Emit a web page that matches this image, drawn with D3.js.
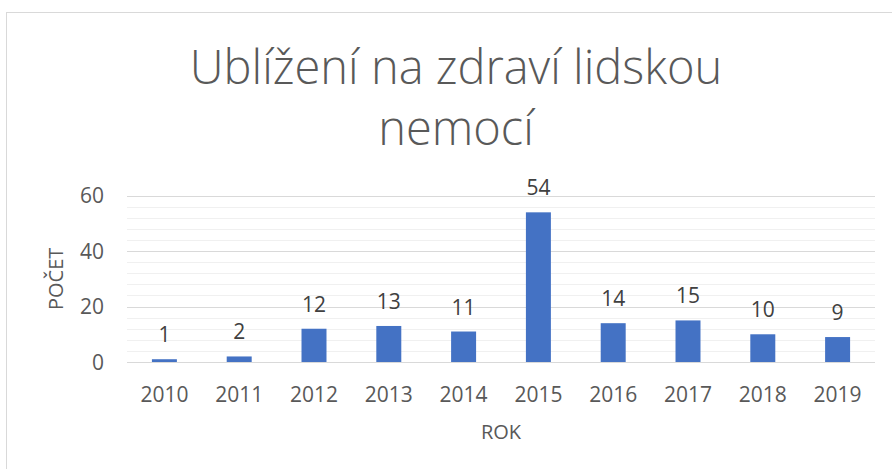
<!DOCTYPE html>
<html><head><meta charset="utf-8">
<script src="https://cdn.jsdelivr.net/npm/d3@7"></script>
<style>body{margin:0;background:#fff}svg{display:block}</style>
</head><body>
<script>
const years = ["2010","2011","2012","2013","2014","2015","2016","2017","2018","2019"];
const counts = [1,2,12,13,11,54,14,15,10,9];
const yTicks = [0,20,40,60];
const yMinor = [4,8,12,16,24,28,32,36,44,48,52,56];
const titleLines = ["Ublížení na zdraví lidskou","nemocí"];
const xTitle = "ROK", yTitle = "POČET";

const W = 892, H = 469;
const m = {l:127, r:17, t:195.7, b:107};
const font = "'Open Sans', sans-serif";
const svg = d3.select("body").append("svg").attr("width",W).attr("height",H);

svg.append("rect").attr("x",6.5).attr("y",12.5).attr("width",W).attr("height",H)
  .attr("fill","#fff").attr("stroke","#d9d9d9");

const x = d3.scaleBand().domain(years).range([m.l, W-m.r]).paddingInner(0.666).paddingOuter(0.333);
const y = d3.scaleLinear().domain([0,60]).range([H-m.b, m.t]);

const g = svg.append("g");
g.selectAll("line.minor").data(yMinor).join("line").attr("class","minor")
  .attr("x1",m.l).attr("x2",W-m.r).attr("y1",d=>Math.round(y(d))+0.5).attr("y2",d=>Math.round(y(d))+0.5)
  .attr("stroke","#f0f0f0").attr("stroke-width",1);
g.selectAll("line.major").data(yTicks).join("line").attr("class","major")
  .attr("x1",m.l).attr("x2",W-m.r).attr("y1",d=>Math.round(y(d))+0.5).attr("y2",d=>Math.round(y(d))+0.5)
  .attr("stroke","#d9d9d9").attr("stroke-width",1);

g.selectAll("rect.bar").data(counts).join("rect").attr("class","bar")
  .attr("x",(d,i)=>x(years[i])).attr("width",x.bandwidth())
  .attr("y",d=>y(d)).attr("height",d=>y(0)-y(d)).attr("fill","#4472c4");

g.selectAll("text.lbl").data(counts).join("text").attr("class","lbl")
  .attr("x",(d,i)=>x(years[i])+x.bandwidth()/2).attr("y",d=>y(d)-17)
  .attr("text-anchor","middle").attr("font-family",font).attr("font-size",21)
  .attr("fill","#404040").text(d=>d);

g.selectAll("text.yt").data(yTicks).join("text").attr("class","yt")
  .attr("x",104).attr("y",d=>y(d)).attr("dy","0.36em").attr("text-anchor","end")
  .attr("font-family",font).attr("font-size",21).attr("fill","#595959").text(d=>d);

g.selectAll("text.xt").data(years).join("text").attr("class","xt")
  .attr("x",d=>x(d)+x.bandwidth()/2).attr("y",402)
  .attr("text-anchor","middle").attr("font-family",font).attr("font-size",21)
  .attr("fill","#595959").text(d=>d);

svg.append("text").attr("x",(m.l+W-m.r)/2).attr("y",439).attr("text-anchor","middle")
  .attr("font-family",font).attr("font-size",20).attr("fill","#595959").text(xTitle);

svg.append("text").attr("transform",`translate(63,${(y(0)+y(60))/2}) rotate(-90)`)
  .attr("text-anchor","middle").attr("font-family",font).attr("font-size",20)
  .attr("fill","#595959").text(yTitle);

svg.selectAll("text.title").data(titleLines).join("text").attr("class","title")
  .attr("x",456).attr("y",(d,i)=>84+i*61).attr("text-anchor","middle")
  .attr("font-family",font).attr("font-weight",300).attr("font-size",47)
  .attr("fill","#595959").text(d=>d);
</script>
</body></html>
